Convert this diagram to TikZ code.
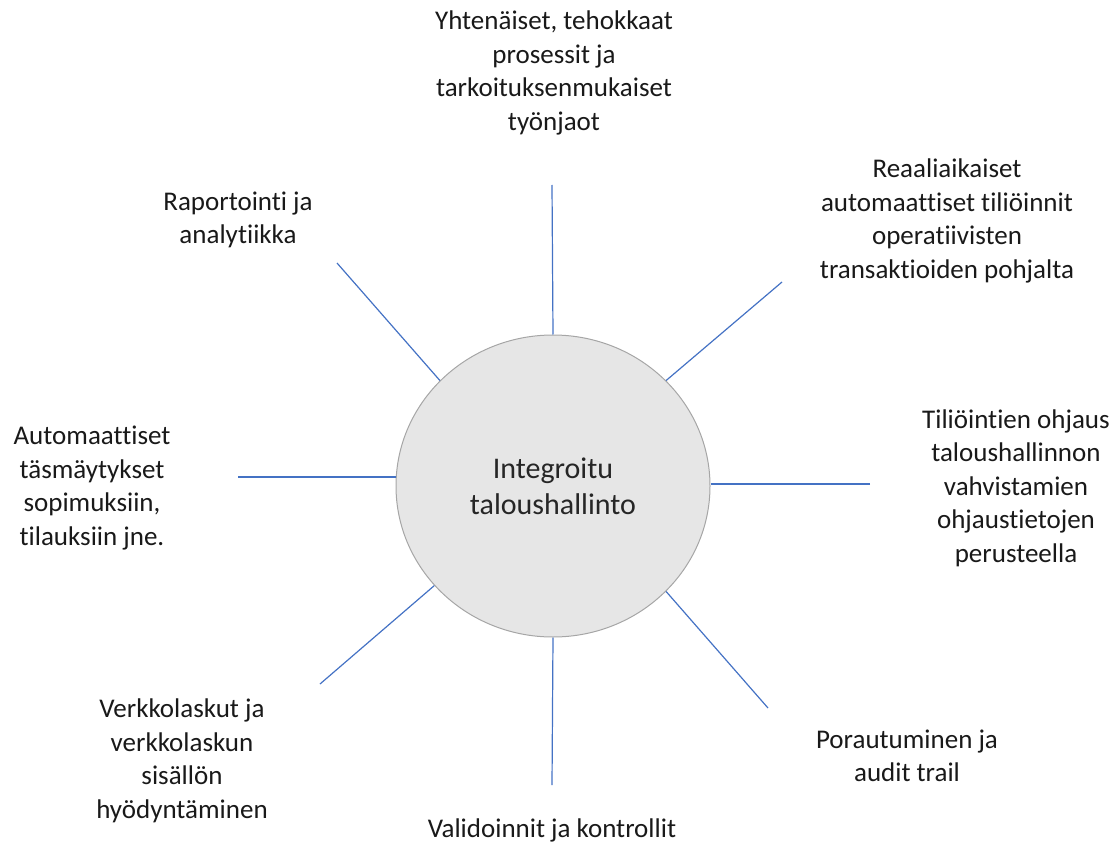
\documentclass[tikz,border=0pt]{standalone}
\usepackage{fontspec}
\setmainfont{Carlito}[Ligatures=NoCommon]
\usepackage{tikz}
\usetikzlibrary{shapes.geometric}
\definecolor{spoke}{HTML}{4472C4}
\definecolor{hubfill}{HTML}{E6E6E6}
\definecolor{hubline}{HTML}{A6A6A6}
\def\spoke(#1,#2){\draw [spoke,line width=1.2pt] (#1) -- (#2);}

\begin{document}
\begin{tikzpicture}[x=1pt,y=-1pt,
  lbl/.style={align=center,text=black!90,font=\fontsize{27}{33.5}\selectfont,inner sep=0pt}]
  \useasboundingbox (0,0) rectangle (1117,848);
\node [ellipse,draw=hubline,fill=hubfill,line width=1pt,minimum width=314pt,minimum height=302pt,align=center,text=black!85,font=\fontsize{30}{36}\selectfont] (hub) at (553,486) {Integroitu\\ taloushallinto};
\node [lbl] (top) at (554,73) {Yhtenäiset, tehokkaat\\ prosessit ja\\ tarkoituksenmukaiset\\ työnjaot};
\node [lbl] (tl) at (238,220) {Raportointi ja\\ analytiikka};
\node [lbl] (tr) at (947,221) {Reaaliaikaiset\\ automaattiset tiliöinnit\\ operatiivisten\\ transaktioiden pohjalta};
\node [lbl] (rt) at (1016,488) {Tiliöintien ohjaus\\ taloushallinnon\\ vahvistamien\\ ohjaustietojen\\ perusteella};
\node [lbl] (br) at (907,756) {Porautuminen ja\\ audit trail};
\node [lbl] (bot) at (552,830) {Validoinnit ja kontrollit};
\node [lbl] (bl) at (182,761) {Verkkolaskut ja\\ verkkolaskun\\ sisällön\\ hyödyntäminen};
\node [lbl] (lf) at (92,488) {Automaattiset\\ täsmäytykset\\ sopimuksiin,\\ tilauksiin jne.};
% free ends of the spokes
\coordinate (ptop) at (552,185);
\coordinate (ptl) at (337,263);
\coordinate (ptr) at (782,282);
\coordinate (prt) at (870,484);
\coordinate (pbr) at (768,708);
\coordinate (pbot) at (552,785);
\coordinate (pbl) at (320,684);
\coordinate (plf) at (238,477);
\spoke(ptop,hub.north)
\spoke(ptl,hub.137)
\spoke(ptr,hub.43)
\spoke(prt,hub.east |- prt)
\spoke(pbr,hub.-43)
\spoke(pbot,hub.south)
\spoke(pbl,hub.-140)
\spoke(plf,hub.west |- plf)
\end{tikzpicture}
\end{document}
